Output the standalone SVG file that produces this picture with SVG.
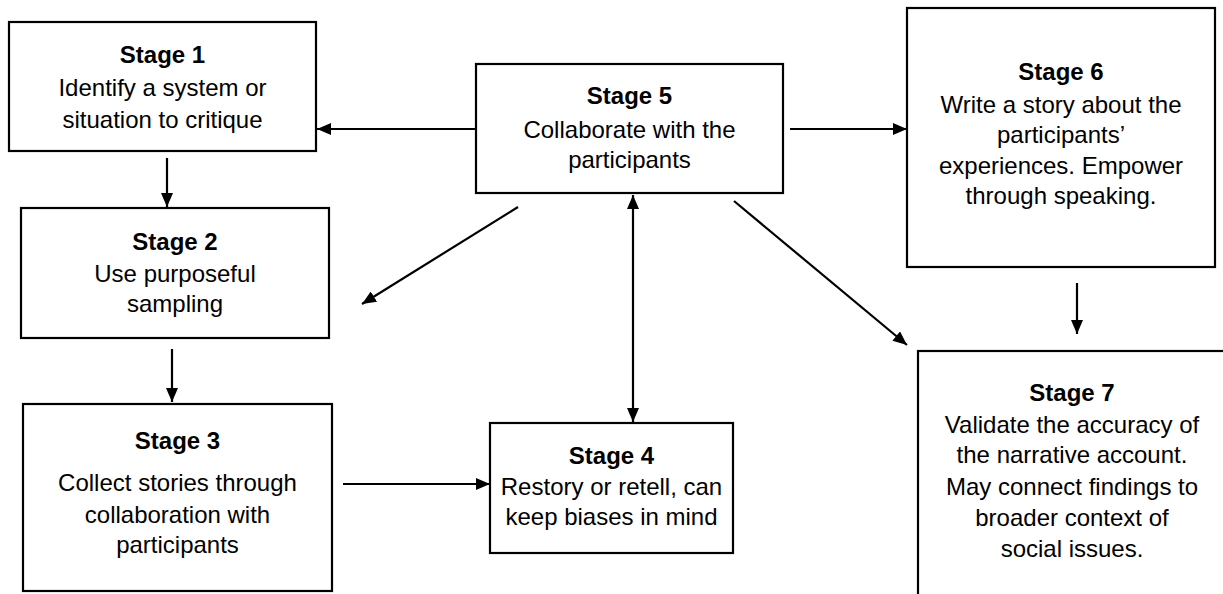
<svg xmlns="http://www.w3.org/2000/svg" width="1223" height="594" viewBox="0 0 1223 594">
<style>
.box{fill:#fff;stroke:#000;stroke-width:2.2}
.t{font-family:"Liberation Sans",Arial,sans-serif;font-size:24px;fill:#000;text-anchor:middle}
.b{font-weight:bold}
.c{stroke:#000;stroke-width:2.2;fill:none}
</style>
<defs>
<marker id="ah" viewBox="0 0 14 12" refX="14" refY="6" markerWidth="14" markerHeight="12" markerUnits="userSpaceOnUse" orient="auto-start-reverse">
<path d="M0,0 L14,6 L0,12 Z" fill="#000"/>
</marker>
</defs>
<rect width="1223" height="594" fill="#fff"/>
<g id="connectors">
<line class="c" x1="475" y1="129" x2="317" y2="129" marker-end="url(#ah)"/>
<line class="c" x1="790" y1="129" x2="907" y2="129" marker-end="url(#ah)"/>
<line class="c" x1="167" y1="158" x2="167" y2="207" marker-end="url(#ah)"/>
<line class="c" x1="172" y1="349" x2="172" y2="402" marker-end="url(#ah)"/>
<line class="c" x1="343" y1="484" x2="490" y2="484" marker-end="url(#ah)"/>
<line class="c" x1="633" y1="195" x2="633" y2="422" marker-start="url(#ah)" marker-end="url(#ah)"/>
<line class="c" x1="518" y1="207" x2="362" y2="304" marker-end="url(#ah)"/>
<line class="c" x1="734" y1="201" x2="907" y2="345" marker-end="url(#ah)"/>
<line class="c" x1="1077" y1="283" x2="1077" y2="334" marker-end="url(#ah)"/>
</g>
<g id="stage1">
<rect class="box" x="9" y="22" width="307" height="129"/>
<text class="t b" x="162.5" y="63">Stage 1</text>
<text class="t" x="162.5" y="96">Identify a system or</text>
<text class="t" x="162.5" y="128">situation to critique</text>
</g>
<g id="stage2">
<rect class="box" x="21" y="208" width="308" height="130"/>
<text class="t b" x="175" y="250">Stage 2</text>
<text class="t" x="175" y="282">Use purposeful</text>
<text class="t" x="175" y="312">sampling</text>
</g>
<g id="stage3">
<rect class="box" x="23" y="404" width="309" height="187"/>
<text class="t b" x="177.5" y="449">Stage 3</text>
<text class="t" x="177.5" y="491">Collect stories through</text>
<text class="t" x="177.5" y="523">collaboration with</text>
<text class="t" x="177.5" y="553">participants</text>
</g>
<g id="stage4">
<rect class="box" x="490" y="423" width="243" height="130"/>
<text class="t b" x="611.5" y="464">Stage 4</text>
<text class="t" x="611.5" y="495">Restory or retell, can</text>
<text class="t" x="611.5" y="525">keep biases in mind</text>
</g>
<g id="stage5">
<rect class="box" x="476" y="64" width="307" height="129"/>
<text class="t b" x="629.5" y="104">Stage 5</text>
<text class="t" x="629.5" y="138">Collaborate with the</text>
<text class="t" x="629.5" y="168">participants</text>
</g>
<g id="stage6">
<rect class="box" x="907" y="8" width="308" height="259"/>
<text class="t b" x="1061" y="80">Stage 6</text>
<text class="t" x="1061" y="113">Write a story about the</text>
<text class="t" x="1061" y="143">participants’</text>
<text class="t" x="1061" y="174">experiences. Empower</text>
<text class="t" x="1061" y="204">through speaking.</text>
</g>
<g id="stage7">
<rect class="box" x="918" y="351" width="320" height="300"/>
<text class="t b" x="1072" y="401">Stage 7</text>
<text class="t" x="1072" y="433">Validate the accuracy of</text>
<text class="t" x="1072" y="463">the narrative account.</text>
<text class="t" x="1072" y="495">May connect findings to</text>
<text class="t" x="1072" y="526">broader context of</text>
<text class="t" x="1072" y="557">social issues.</text>
</g>
</svg>
